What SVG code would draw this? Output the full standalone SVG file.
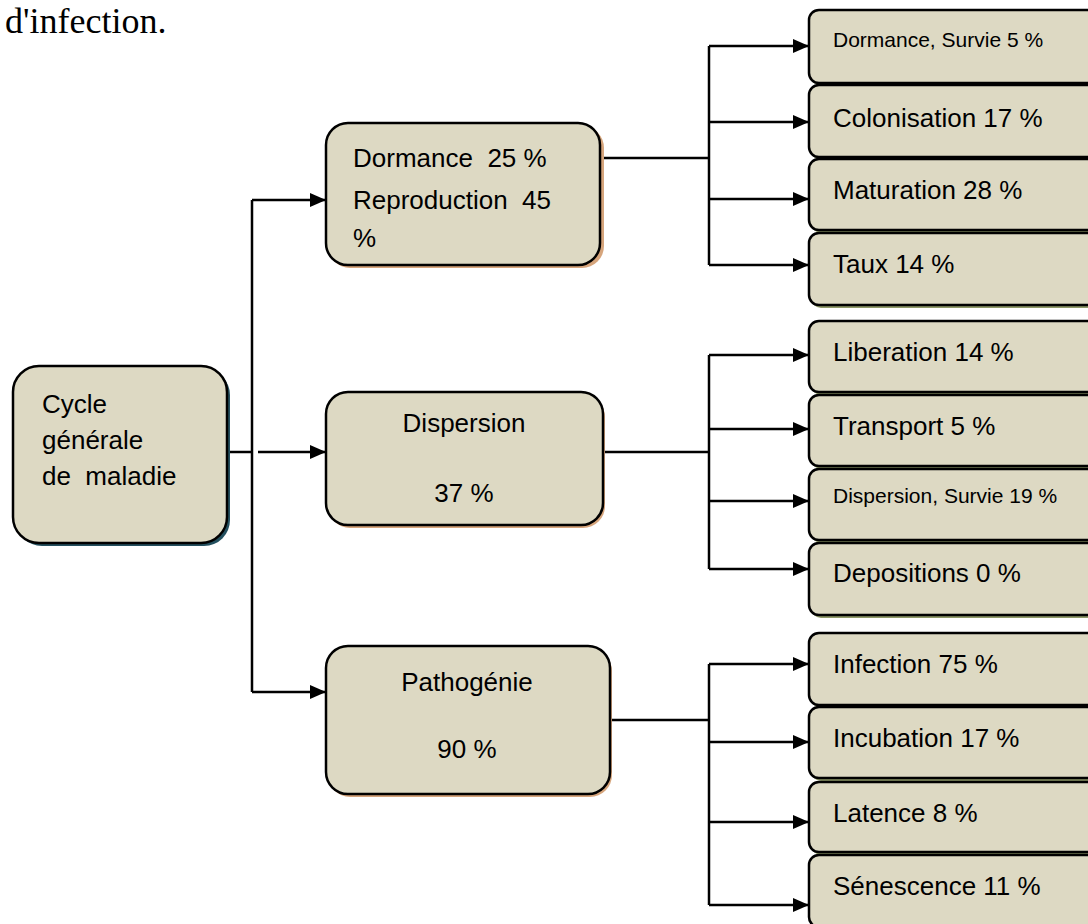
<svg xmlns="http://www.w3.org/2000/svg" width="1088" height="924" viewBox="0 0 1088 924">
<style>
  .box { fill: #ddd9c3; stroke: #000; stroke-width: 2.5; }
  .sh-root { fill: #24505f; }
  .sh-mid { fill: #d6a57c; }
  .sh-leaf { fill: #8e9868; }
  .t { font-family: "Liberation Sans", Arial, sans-serif; font-size: 26px; fill: #000; }
  .ts { font-family: "Liberation Sans", Arial, sans-serif; font-size: 21px; fill: #000; }
  .c { text-anchor: middle; }
  .ln { fill: none; stroke: #000; stroke-width: 2.5; }
  .ar { fill: none; stroke: #000; stroke-width: 2.5; marker-end: url(#ah); }
</style>
<defs>
  <marker id="ah" markerUnits="userSpaceOnUse" markerWidth="18" markerHeight="14" refX="16" refY="7" orient="auto">
    <path d="M0,0 L16,7 L0,14 Z" fill="#000"/>
  </marker>
</defs>
<rect width="1088" height="924" fill="#fff"/>
<text x="5" y="33" font-family="Liberation Serif, 'Times New Roman', serif" font-size="36" fill="#000">d'infection.</text>

<g id="connectors">
  <polyline class="ln" points="227,452 252,452"/>
  <polyline class="ln" points="252,692 252,200"/>
  <polyline class="ar" points="252,200 326,200"/>
  <polyline class="ar" points="258,452 326,452"/>
  <polyline class="ar" points="252,692 326,692"/>

  <polyline class="ln" points="600,158 709,158"/>
  <polyline class="ln" points="709,46 709,265"/>
  <polyline class="ar" points="709,46 809,46"/>
  <polyline class="ar" points="709,122 809,122"/>
  <polyline class="ar" points="709,199 809,199"/>
  <polyline class="ar" points="709,265 809,265"/>

  <polyline class="ln" points="603,452 709,452"/>
  <polyline class="ln" points="709,355 709,569"/>
  <polyline class="ar" points="709,355 809,355"/>
  <polyline class="ar" points="709,429 809,429"/>
  <polyline class="ar" points="709,501 809,501"/>
  <polyline class="ar" points="709,569 809,569"/>

  <polyline class="ln" points="610,720 709,720"/>
  <polyline class="ln" points="709,664 709,905"/>
  <polyline class="ar" points="709,664 809,664"/>
  <polyline class="ar" points="709,742 809,742"/>
  <polyline class="ar" points="709,822 809,822"/>
  <polyline class="ar" points="709,905 809,905"/>
</g>

<g id="root">
  <rect class="sh-root" x="16" y="369" width="214" height="177" rx="26"/>
  <rect class="box" x="13" y="366" width="214" height="177" rx="26"/>
  <text class="t" x="42" y="413">Cycle</text>
  <text class="t" x="42" y="449">générale</text>
  <text class="t" x="42" y="485" xml:space="preserve">de  maladie</text>
</g>

<g id="dormance">
  <rect class="sh-mid" x="328" y="126" width="276" height="142" rx="22"/>
  <rect class="box" x="326" y="123" width="274" height="142" rx="22"/>
  <text class="t" x="353" y="167" xml:space="preserve">Dormance  25 %</text>
  <text class="t" x="353" y="209" xml:space="preserve">Reproduction  45</text>
  <text class="t" x="353" y="247">%</text>
</g>

<g id="dispersion">
  <rect class="sh-mid" x="328" y="395" width="277" height="133" rx="22"/>
  <rect class="box" x="326" y="392" width="277" height="133" rx="22"/>
  <text class="t c" x="464" y="432">Dispersion</text>
  <text class="t c" x="464" y="502">37 %</text>
</g>

<g id="pathogenie">
  <rect class="sh-mid" x="328" y="649" width="284" height="148" rx="22"/>
  <rect class="box" x="326" y="646" width="284" height="148" rx="22"/>
  <text class="t c" x="467" y="691">Pathogénie</text>
  <text class="t c" x="467" y="758">90 %</text>
</g>

<g id="leaf-dormance-survie">
  <rect class="sh-leaf" x="811" y="13" width="290" height="73" rx="10"/>
  <rect class="box" x="809" y="10" width="290" height="73" rx="10"/>
  <text class="ts" x="833" y="47">Dormance, Survie 5 %</text>
</g>
<g id="leaf-colonisation">
  <rect class="sh-leaf" x="811" y="88" width="290" height="72" rx="10"/>
  <rect class="box" x="809" y="85" width="290" height="72" rx="10"/>
  <text class="t" x="833" y="127">Colonisation 17 %</text>
</g>
<g id="leaf-maturation">
  <rect class="sh-leaf" x="811" y="162" width="290" height="71" rx="10"/>
  <rect class="box" x="809" y="159" width="290" height="71" rx="10"/>
  <text class="t" x="833" y="199">Maturation 28 %</text>
</g>
<g id="leaf-taux">
  <rect class="sh-leaf" x="811" y="236" width="290" height="72" rx="10"/>
  <rect class="box" x="809" y="233" width="290" height="72" rx="10"/>
  <text class="t" x="833" y="273">Taux 14 %</text>
</g>

<g id="leaf-liberation">
  <rect class="sh-leaf" x="811" y="324" width="290" height="71" rx="10"/>
  <rect class="box" x="809" y="321" width="290" height="71" rx="10"/>
  <text class="t" x="833" y="361">Liberation 14 %</text>
</g>
<g id="leaf-transport">
  <rect class="sh-leaf" x="811" y="398" width="290" height="71" rx="10"/>
  <rect class="box" x="809" y="395" width="290" height="71" rx="10"/>
  <text class="t" x="833" y="435">Transport 5 %</text>
</g>
<g id="leaf-dispersion-survie">
  <rect class="sh-leaf" x="811" y="472" width="290" height="71" rx="10"/>
  <rect class="box" x="809" y="469" width="290" height="71" rx="10"/>
  <text class="ts" x="833" y="503">Dispersion, Survie 19 %</text>
</g>
<g id="leaf-depositions">
  <rect class="sh-leaf" x="811" y="546" width="290" height="72" rx="10"/>
  <rect class="box" x="809" y="543" width="290" height="72" rx="10"/>
  <text class="t" x="833" y="582">Depositions 0 %</text>
</g>

<g id="leaf-infection">
  <rect class="sh-leaf" x="811" y="636" width="290" height="72" rx="10"/>
  <rect class="box" x="809" y="633" width="290" height="72" rx="10"/>
  <text class="t" x="833" y="673">Infection 75 %</text>
</g>
<g id="leaf-incubation">
  <rect class="sh-leaf" x="811" y="710" width="290" height="71" rx="10"/>
  <rect class="box" x="809" y="707" width="290" height="71" rx="10"/>
  <text class="t" x="833" y="747">Incubation 17 %</text>
</g>
<g id="leaf-latence">
  <rect class="sh-leaf" x="811" y="785" width="290" height="70" rx="10"/>
  <rect class="box" x="809" y="782" width="290" height="70" rx="10"/>
  <text class="t" x="833" y="822">Latence 8 %</text>
</g>
<g id="leaf-senescence">
  <rect class="sh-leaf" x="811" y="858" width="290" height="72" rx="10"/>
  <rect class="box" x="809" y="855" width="290" height="72" rx="10"/>
  <text class="t" x="833" y="895">Sénescence 11 %</text>
</g>
</svg>
